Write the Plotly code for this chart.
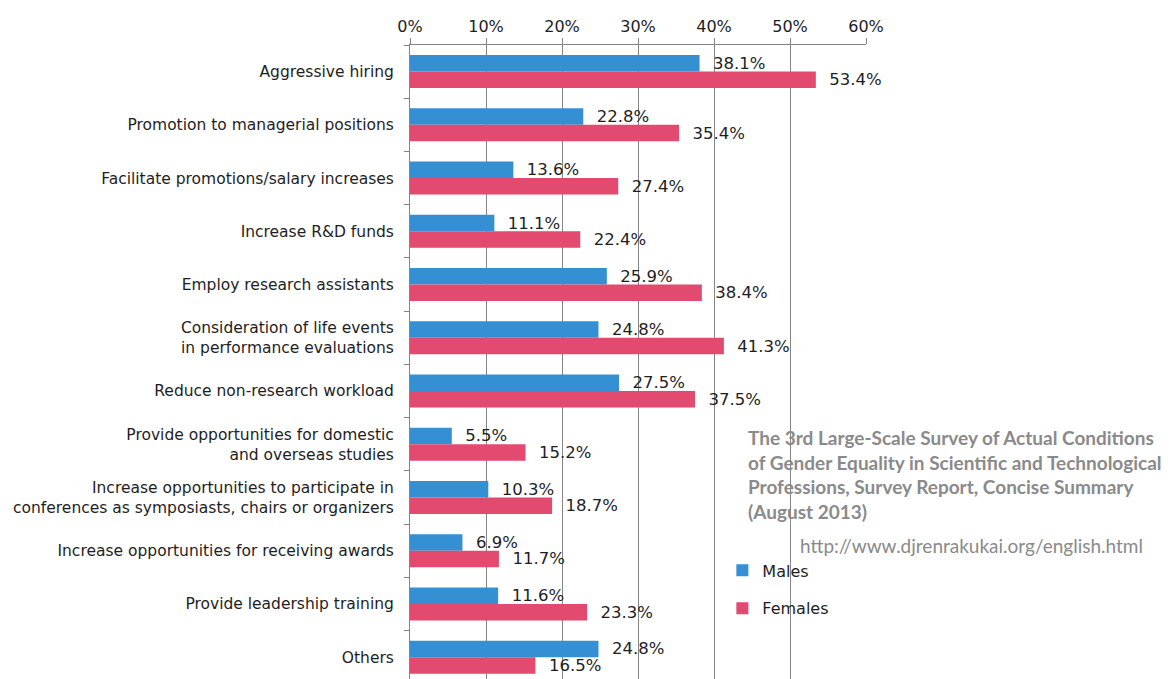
import plotly.graph_objects as go

categories = [
    "Aggressive hiring",
    "Promotion to managerial positions",
    "Facilitate promotions/salary increases",
    "Increase R&D funds",
    "Employ research assistants",
    "Consideration of life events<br>in performance evaluations",
    "Reduce non-research workload",
    "Provide opportunities for domestic<br>and overseas studies",
    "Increase opportunities to participate in<br>conferences as symposiasts, chairs or organizers",
    "Increase opportunities for receiving awards",
    "Provide leadership training",
    "Others",
]
males = [38.1, 22.8, 13.6, 11.1, 25.9, 24.8, 27.5, 5.5, 10.3, 6.9, 11.6, 24.8]
females = [53.4, 35.4, 27.4, 22.4, 38.4, 41.3, 37.5, 15.2, 18.7, 11.7, 23.3, 16.5]

source_title = ("The 3rd Large-Scale Survey of Actual Conditions<br>"
                "of Gender Equality in Scientific and Technological<br>"
                "Professions, Survey Report, Concise Summary<br>"
                "(August 2013)")
source_url = "http://www.djrenrakukai.org/english.html"

BLUE = "#3490d3"
PINK = "#e24a6f"
TEXT = "#1e1e1e"
SANS = "DejaVu Sans, Verdana, sans-serif"

fig = go.Figure()
for name, vals, color in [("Males", males, BLUE), ("Females", females, PINK)]:
    fig.add_trace(go.Bar(
        name=name, y=categories, x=vals, orientation="h", legendgroup=name,
        marker=dict(color=color, line=dict(width=0)),
        texttemplate="  %{x:.1f}%", textposition="outside", constraintext="none",
        textfont=dict(family=SANS, size=16.5, color=TEXT), cliponaxis=False,
    ))

fig.update_layout(
    width=1175, height=679,
    margin=dict(l=410, r=309, t=45, b=0),
    paper_bgcolor="white", plot_bgcolor="white",
    barmode="group", bargap=0.38, bargroupgap=0.0,
    showlegend=True,
    legend=dict(x=0.685, xanchor="left", y=0.198, yanchor="top",
                font=dict(family=SANS, size=16, color=TEXT),
                bgcolor="rgba(0,0,0,0)", traceorder="grouped",
                tracegroupgap=14, itemwidth=30),
    xaxis=dict(
        side="top", range=[0, 60], dtick=10, ticksuffix="%",
        showgrid=True, gridcolor="#858585", gridwidth=1,
        showline=True, linecolor="#858585", linewidth=1,
        ticks="outside", ticklen=6, tickcolor="#858585",
        tickfont=dict(family=SANS, size=16, color=TEXT),
        zeroline=False, fixedrange=True,
    ),
    yaxis=dict(
        type="category", range=[11.41, -0.5],
        showline=True, linecolor="#858585", linewidth=1,
        ticks="outside", ticklen=5, tickcolor="#858585", tickson="boundaries",
        tickfont=dict(family=SANS, size=15.5, color=TEXT),
        showgrid=False, ticklabelstandoff=12, fixedrange=True,
    ),
    annotations=[
        dict(text="<b>" + source_title + "</b>", xref="paper", yref="paper",
             x=0.737, y=0.402, xanchor="left", yanchor="top", align="left",
             showarrow=False,
             font=dict(family="Lato, Liberation Sans, sans-serif", size=19, color="#8a8a8a")),
        dict(text=source_url, xref="paper", yref="paper",
             x=0.851, y=0.19, xanchor="left", yanchor="bottom", align="left",
             showarrow=False,
             font=dict(family="Lato, Liberation Sans, sans-serif", size=19, color="#8a8a8a")),
    ],
)

fig.write_html("out.html")
